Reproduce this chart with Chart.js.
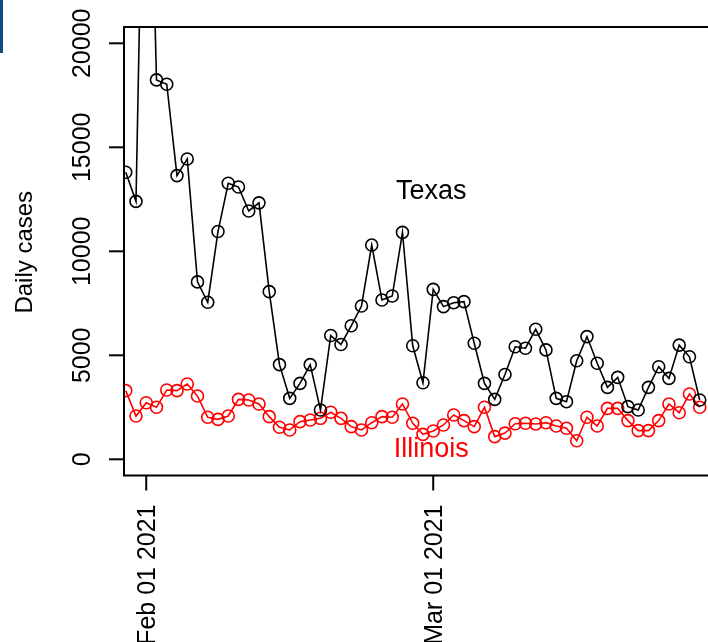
<!DOCTYPE html>
<html>
<head>
<meta charset="utf-8">
<script src="https://cdn.jsdelivr.net/npm/chart.js@4"></script>
<style>
  html, body { margin: 0; padding: 0; background: #fff; overflow: hidden; }
  #wrap { position: relative; width: 720px; height: 642px; }
  #tab { position: absolute; left: 0; top: 0; width: 3px; height: 53px; background: #0e4c85; z-index: 2; }
</style>
</head>
<body>
<div id="wrap">
  <div id="tab"></div>
  <canvas id="casesChart" width="720" height="642"></canvas>
</div>
<script>
// Days counted from Feb 01 2021 (day 0); Mar 01 2021 is day 28
const days = [];
for (let d = -2; d <= 54; d++) days.push(d);

const texasCases = [
  13800, 12400, 38000, 18240, 18030, 13640, 14440, 8530, 7550, 10950,
  13270, 13090, 11940, 12330, 8060, 4550, 2930, 3650, 4550, 2370,
  5950, 5520, 6420, 7370, 10300, 7660, 7850, 10910, 5460, 3680,
  8170, 7340, 7530, 7580, 5580, 3650, 2880, 4080, 5410, 5340,
  6250, 5260, 2930, 2770, 4740, 5900, 4620, 3460, 3940, 2530,
  2370, 3460, 4450, 3890, 5490, 4930, 2850
];

const illinoisCases = [
  3300, 2080, 2720, 2500, 3330, 3300, 3620, 3040, 2020, 1920,
  2080, 2880, 2850, 2660, 2050, 1540, 1410, 1810, 1890, 1970,
  2260, 1970, 1570, 1410, 1760, 2050, 2020, 2660, 1730, 1200,
  1360, 1650, 2130, 1860, 1570, 2500, 1090, 1260, 1710, 1730,
  1700, 1760, 1600, 1490, 890, 2020, 1600, 2450, 2450, 1860,
  1380, 1380, 1860, 2660, 2240, 3140, 2500
];

const yTicks = [0, 5000, 10000, 15000, 20000];
const xTickDays = [0, 28];
const xTickLabels = ['Feb 01 2021', 'Mar 01 2021'];

const seriesLabels = [
  { text: 'Texas', day: 27.8, value: 13000, color: '#000000' },
  { text: 'Illinois', day: 27.8, value: 600, color: '#ff0000' }
];

const FONT = "'Liberation Sans', Arial, sans-serif";

// R-style axes, box and text labels drawn from the chart's scales
const baseAxes = {
  id: 'baseAxes',
  afterDraw(chart) {
    const ctx = chart.ctx;
    const area = chart.chartArea;
    const xs = chart.scales.x;
    const ys = chart.scales.y;
    ctx.save();
    ctx.strokeStyle = '#000';
    ctx.lineWidth = 2;
    ctx.lineCap = 'butt';

    // box (right side lies outside the window)
    ctx.beginPath();
    ctx.moveTo(area.right + 2, area.top);
    ctx.lineTo(area.left, area.top);
    ctx.lineTo(area.left, area.bottom);
    ctx.lineTo(area.right + 2, area.bottom);
    ctx.stroke();

    // y ticks + rotated labels
    ctx.fillStyle = '#000';
    ctx.font = '25px ' + FONT;
    ctx.textAlign = 'center';
    ctx.textBaseline = 'alphabetic';
    yTicks.forEach(v => {
      const py = ys.getPixelForValue(v);
      ctx.beginPath();
      ctx.moveTo(area.left - 15, py);
      ctx.lineTo(area.left, py);
      ctx.stroke();
      ctx.save();
      ctx.translate(90, py);
      ctx.rotate(-Math.PI / 2);
      ctx.fillText(String(v), 0, 0);
      ctx.restore();
    });

    // x ticks + rotated labels
    ctx.textAlign = 'right';
    xTickDays.forEach((d, i) => {
      const px = xs.getPixelForValue(d);
      ctx.beginPath();
      ctx.moveTo(px, area.bottom);
      ctx.lineTo(px, area.bottom + 15);
      ctx.stroke();
      ctx.save();
      ctx.translate(px + 8.6, area.bottom + 29);
      ctx.rotate(-Math.PI / 2);
      ctx.fillText(xTickLabels[i], 0, 0);
      ctx.restore();
    });

    // y axis title
    ctx.font = '24px ' + FONT;
    ctx.textAlign = 'center';
    ctx.save();
    ctx.translate(31.5, (area.top + area.bottom) / 2 + 1);
    ctx.rotate(-Math.PI / 2);
    ctx.fillText('Daily cases', 0, 0);
    ctx.restore();

    // series labels
    ctx.font = '27px ' + FONT;
    seriesLabels.forEach(l => {
      ctx.fillStyle = l.color;
      ctx.fillText(l.text, xs.getPixelForValue(l.day), ys.getPixelForValue(l.value) + 9.7);
    });
    ctx.restore();
  }
};

function makeSeries(values, color) {
  return {
    data: days.map((d, i) => ({ x: d, y: values[i] })),
    borderColor: color,
    backgroundColor: 'transparent',
    borderWidth: 1.6,
    pointRadius: 6,
    pointBorderWidth: 1.6,
    pointBorderColor: color,
    pointBackgroundColor: 'transparent',
    pointStyle: 'circle',
    tension: 0,
    clip: 0
  };
}

new Chart(document.getElementById('casesChart').getContext('2d'), {
  type: 'line',
  data: {
    datasets: [
      makeSeries(texasCases, '#000000'),
      makeSeries(illinoisCases, '#ff0000')
    ]
  },
  options: {
    responsive: false,
    animation: false,
    devicePixelRatio: 1,
    layout: { autoPadding: false, padding: { left: 124, top: 27, right: 4, bottom: 166.5 } },
    scales: {
      x: { type: 'linear', min: -2.17, max: 55.59, display: false },
      y: { type: 'linear', min: -779, max: 20784, display: false }
    },
    plugins: {
      legend: { display: false },
      tooltip: { enabled: false }
    }
  },
  plugins: [baseAxes]
});
</script>
</body>
</html>
